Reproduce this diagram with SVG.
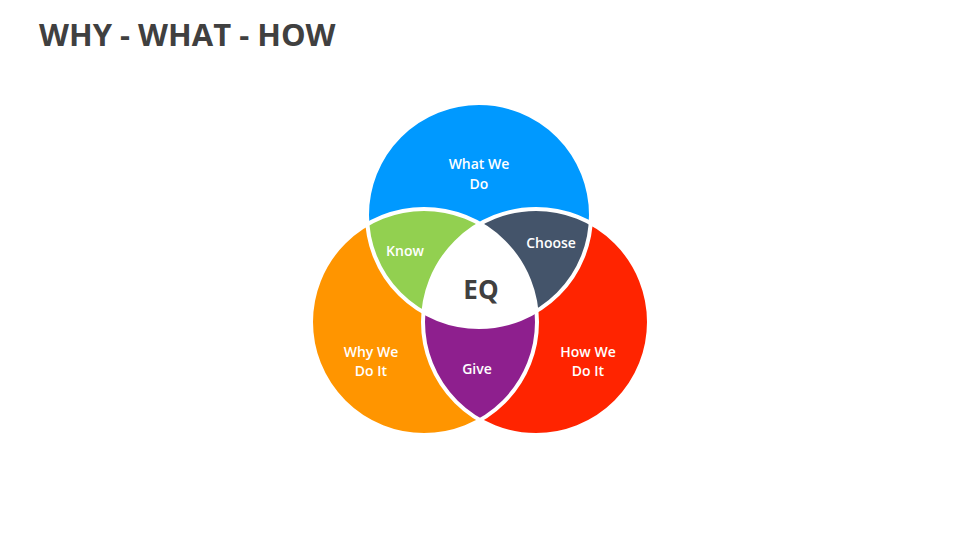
<svg xmlns="http://www.w3.org/2000/svg" width="960" height="540" viewBox="0 0 960 540">
<style>
.t{font-family:"Open Sans","Liberation Sans",sans-serif;fill:#fff;font-size:14px;font-weight:600;text-anchor:middle}
.o{fill:none;stroke:#fff;stroke-width:4}
</style>
<defs>
<clipPath id="cB"><circle cx="479" cy="215" r="112"/></clipPath>
<clipPath id="cO"><circle cx="424" cy="322" r="113"/></clipPath>
<clipPath id="cR"><circle cx="536" cy="322" r="113"/></clipPath>
</defs>
<rect width="960" height="540" fill="#fff"/>
<text x="39" y="46" font-family="Open Sans,Liberation Sans,sans-serif" font-weight="bold" font-size="31" fill="#404040">WHY - WHAT - HOW</text>
<g id="what"><circle cx="479" cy="215" r="112" fill="#0099FF"/><text class="t" x="479" y="169">What We</text><text class="t" x="479" y="189">Do</text></g>
<g id="why"><circle cx="424" cy="322" r="113" fill="#FF9500"/><text class="t" x="371" y="357">Why We</text><text class="t" x="371" y="376">Do It</text></g>
<g id="how"><circle cx="536" cy="322" r="113" fill="#FF2400"/><text class="t" x="588" y="357">How We</text><text class="t" x="588" y="376">Do It</text></g>
<g id="know"><g clip-path="url(#cO)"><circle cx="479" cy="215" r="112" fill="#92D050"/></g><text class="t" x="405" y="256">Know</text></g>
<g id="choose"><g clip-path="url(#cR)"><circle cx="479" cy="215" r="112" fill="#44546A"/></g><text class="t" x="551" y="248">Choose</text></g>
<g id="give"><g clip-path="url(#cR)"><circle cx="424" cy="322" r="113" fill="#8E1F8E"/></g><text class="t" x="477" y="374">Give</text></g>
<g id="eq"><g clip-path="url(#cB)"><g clip-path="url(#cR)"><circle cx="424" cy="322" r="113" fill="#fff"/></g></g><text x="481" y="299" font-family="Open Sans,Liberation Sans,sans-serif" font-weight="bold" font-size="26" fill="#404040" text-anchor="middle">EQ</text></g>
<g id="outlines"><circle class="o" cx="479" cy="215" r="112"/><circle class="o" cx="424" cy="322" r="113"/><circle class="o" cx="536" cy="322" r="113"/></g>
</svg>
